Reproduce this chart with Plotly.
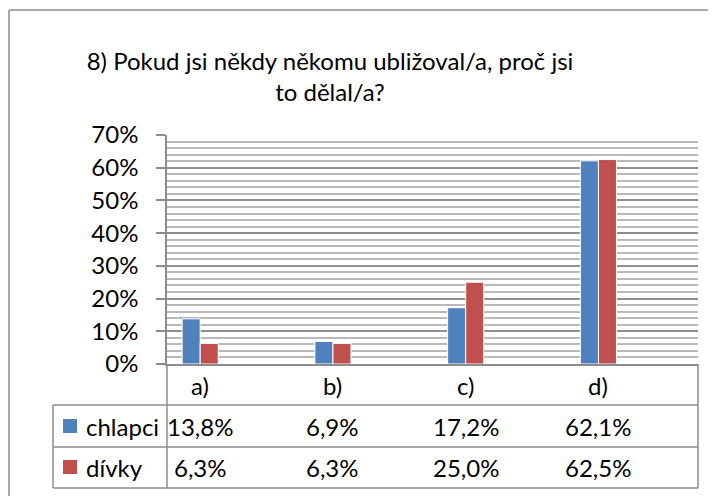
import plotly.graph_objects as go

# ---- data ----
categories = ["a)", "b)", "c)", "d)"]
series_names = ["chlapci", "dívky"]
chlapci = [13.8, 6.9, 17.2, 62.1]
divky = [6.3, 6.3, 25.0, 62.5]
colors = ["#4F81BD", "#C0504D"]
title_text = "8) Pokud jsi někdy někomu ubližoval/a, proč jsi<br>to dělal/a?"

OFF = 8  # page body margin offset
W, H = 716 - OFF, 496 - OFF
# plot area in screen pixels
PL, PR, PT, PB = 167, 698, 135, 364
FONT = "Lato"
FS = 24

def px_x(p):
    return (p - PL) / (PR - PL)

def px_y(p):
    return (PB - p) / (PB - PT)

fig = go.Figure()
xs = list(range(len(categories)))
bw = 0.136
for name, vals, col, off in [(series_names[0], chlapci, colors[0], -bw),
                              (series_names[1], divky, colors[1], 0.0)]:
    fig.add_trace(go.Bar(
        x=xs, y=[v / 100 for v in vals], name=name,
        width=bw, offset=off,
        marker=dict(color=col, line=dict(color="white", width=1)),
        showlegend=False, hoverinfo="skip",
    ))

grid_major = "#8f8f8f"
grid_minor = "#b9b9b9"
line_col = "#8c8c8c"

fig.update_layout(
    width=W, height=H,
    margin=dict(l=PL - OFF, r=716 - PR, t=PT - OFF, b=496 - PB, autoexpand=False),
    paper_bgcolor="white", plot_bgcolor="white",
    barmode="overlay",
    font=dict(family=FONT, size=FS, color="black"),
    title=dict(text=title_text, x=(330 - OFF) / W, xref="container", xanchor="center",
               y=1 - (70 - OFF) / H, yref="container", yanchor="middle",
               font=dict(family=FONT, size=FS, color="black")),
    xaxis=dict(range=[-0.25, 3.75], tickvals=xs, showticklabels=False,
               showgrid=False, zeroline=False, showline=True,
               linecolor=line_col, linewidth=1.5, ticks=""),
    yaxis=dict(range=[0, 0.7], dtick=0.1, tickformat=".0%",
               showgrid=True, gridcolor=grid_major, gridwidth=1.5,
               minor=dict(dtick=0.02, showgrid=True, gridcolor=grid_minor, gridwidth=1.5),
               zeroline=False, showline=True, linecolor=line_col, linewidth=1.5,
               ticks="outside", ticklen=9, tickcolor=line_col, tickwidth=1.5,
               ticklabelstandoff=13, tickfont=dict(size=FS)),
)

shapes = []
def hline(y, x0, x1):
    shapes.append(dict(type="line", xref="paper", yref="paper",
                       x0=px_x(x0), x1=px_x(x1), y0=px_y(y), y1=px_y(y),
                       line=dict(color=line_col, width=1.5)))
def vline(x, y0, y1):
    shapes.append(dict(type="line", xref="paper", yref="paper",
                       x0=px_x(x), x1=px_x(x), y0=px_y(y0), y1=px_y(y1),
                       line=dict(color=line_col, width=1.5)))

# data table grid
for yy in (405, 447, 488):
    hline(yy, 53, PR)
vline(53, 405, 488)
vline(PL, PB, 488)
vline(PR, PB, 488)
# outer chart border (left and top visible)
vline(9, 10, 500)
hline(10, 9, 720)

annotations = []
# category labels (header row of data table)
for i, c in enumerate(categories):
    annotations.append(dict(text=c, xref="x", yref="paper", x=xs[i], y=px_y(385),
                            xanchor="center", yanchor="middle", showarrow=False,
                            font=dict(family=FONT, size=FS)))
row_centers = [426, 467]
for name, vals, col, yc in [(series_names[0], chlapci, colors[0], row_centers[0]),
                             (series_names[1], divky, colors[1], row_centers[1])]:
    shapes.append(dict(type="rect", xref="paper", yref="paper",
                       x0=px_x(63), x1=px_x(77), y0=px_y(yc - 7), y1=px_y(yc + 7),
                       fillcolor=col, line=dict(width=0)))
    annotations.append(dict(text=name, xref="paper", yref="paper",
                            x=px_x(84), y=px_y(yc), xanchor="left", yanchor="middle",
                            showarrow=False, font=dict(family=FONT, size=FS)))
    for i, v in enumerate(vals):
        annotations.append(dict(text=f"{v:.1f}".replace(".", ",") + "%",
                                xref="x", yref="paper", x=xs[i], y=px_y(yc),
                                xanchor="center", yanchor="middle", showarrow=False,
                                font=dict(family=FONT, size=FS)))

fig.update_layout(shapes=shapes, annotations=annotations)
fig.write_html("out.html")
